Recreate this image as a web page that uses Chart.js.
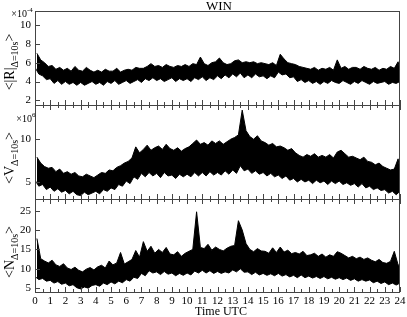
<!DOCTYPE html>
<html>
<head>
<meta charset="utf-8">
<script src="https://cdn.jsdelivr.net/npm/chart.js@4.4.1/dist/chart.umd.min.js"></script>
<style>
  html, body { margin: 0; padding: 0; background: #fff; }
  #wrap { position: relative; width: 407px; height: 317px; }
  canvas { position: absolute; left: 0; top: 0; }
</style>
</head>
<body>
<div id="wrap">
  <canvas id="c1" width="407" height="317"></canvas>
  <canvas id="c2" width="407" height="317"></canvas>
  <canvas id="c3" width="407" height="317"></canvas>
</div>
<script>
// samples every quarter hour, 0..24 UTC; each sample has the low and high edge of the noisy trace
const step = 0.25;

// <|R|> in units of 1e-4
const rLow = [
  5.5, 4.8, 4.6, 4.2,  4.3, 3.8, 4.1, 3.7,  4.0, 3.7, 3.9, 3.6,  3.9, 3.6, 3.8, 4.0,
  3.7, 3.9, 3.6, 4.0,  3.8, 4.1, 3.7, 3.9,  4.1, 3.8, 4.0, 4.2,  3.9, 4.3, 4.1, 4.4,
  4.1, 4.3, 4.0, 4.2,  4.4, 4.0, 4.3, 4.1,  4.3, 4.0, 4.4, 4.2,  4.5, 4.1, 4.4, 4.2,
  4.6, 4.3, 4.7, 4.4,  4.8, 4.5, 4.9, 4.4,  4.7, 4.4, 4.8, 4.5,  4.6, 4.3, 4.6, 4.4,
  5.0, 4.7, 4.8, 4.4,  4.5, 4.0, 4.2, 3.9,  4.1, 3.8, 4.0, 3.7,  4.0, 3.8, 4.1, 3.9,
  3.8, 4.1, 3.9, 3.7,  4.0, 3.8, 4.1, 3.9,  3.7, 4.0, 3.8, 3.9,  4.0, 3.7, 3.9, 3.8,
  4.0
];
const rHigh = [
  7.0, 6.3, 6.0, 5.6,  5.7, 5.3, 5.5, 5.2,  5.4, 5.1, 5.6, 5.2,  5.1, 5.5, 5.2, 5.0,
  5.2, 5.0, 5.3, 5.1,  5.1, 5.4, 5.0, 5.2,  5.3, 5.2, 5.5, 5.4,  5.4, 5.6, 5.9, 5.6,
  5.7, 5.5, 5.8, 5.6,  5.5, 5.7, 5.6, 5.8,  5.6, 5.9, 5.8, 6.6,  5.9, 5.7, 6.0, 6.1,
  6.5, 6.0, 5.8, 5.9,  6.2, 6.3, 6.0, 6.1,  6.0, 6.1, 5.9, 6.0,  5.9, 5.8, 6.0, 5.7,
  6.9, 6.4, 6.0, 5.9,  5.8, 5.6, 5.5, 5.4,  5.3, 5.5, 5.2, 5.4,  5.3, 5.5, 5.2, 6.3,
  5.4, 5.6, 5.3, 5.5,  5.5, 5.3, 5.6, 5.4,  5.3, 5.5, 5.2, 5.4,  5.3, 5.6, 5.4, 6.1,
  5.2
];

// <V> in units of 1e6
const vLow = [
  5.2, 4.5, 4.7, 4.1,  4.4, 3.9, 4.2, 3.8,  4.0, 3.6, 3.9, 3.5,  3.4, 3.8, 3.5, 3.7,
  3.9, 3.6, 4.1, 3.9,  4.3, 4.1, 4.7, 4.5,  5.1, 4.8, 5.6, 5.3,  6.0, 5.6, 6.1, 5.7,
  6.0, 5.5, 6.1, 5.7,  5.8, 5.4, 5.9, 5.6,  5.9, 5.6, 6.1, 5.7,  6.1, 5.7, 6.2, 5.8,
  6.1, 5.8, 6.3, 5.9,  6.4, 6.0, 6.9, 6.3,  6.5, 6.0, 6.3, 5.9,  6.1, 5.7, 6.0, 5.6,
  5.8, 5.4, 5.7, 5.2,  5.4, 5.0, 5.3, 5.0,  5.2, 4.8, 5.2, 4.9,  5.1, 4.7, 5.1, 4.8,
  5.1, 4.7, 4.9, 4.6,  4.8, 4.4, 4.8, 4.3,  4.5, 4.1, 4.3, 4.0,  4.1, 3.7, 3.9, 3.5,
  3.9
];
const vHigh = [
  7.9, 7.2, 6.8, 6.6,  6.7, 6.2, 6.5, 6.0,  6.2, 5.9, 6.1, 5.7,  5.6, 5.9, 5.7, 5.5,
  5.8, 6.1, 6.0, 6.4,  6.3, 6.7, 6.9, 7.2,  7.4, 7.8, 9.1, 8.4,  8.8, 9.3, 8.7, 9.0,
  9.2, 8.8, 9.4, 8.9,  8.7, 9.0, 8.6, 8.9,  9.1, 9.5, 9.9, 9.4,  9.6, 9.3, 9.8, 9.5,
  9.8, 9.4, 9.7, 10.0, 10.2, 10.5, 13.4, 11.0, 10.3, 10.0, 10.4, 9.8, 9.6, 9.3, 9.5, 9.1,
  9.2, 9.0, 8.7, 8.9,  8.4, 8.1, 7.9, 8.2,  8.0, 8.3, 7.9, 8.1,  7.9, 8.2, 7.8, 8.5,
  8.7, 8.3, 7.9, 8.0,  7.8, 7.6, 7.9, 7.4,  7.3, 7.0, 7.2, 6.8,  6.6, 6.4, 6.5, 7.7,
  6.3
];

// <N>
const nLow = [
  8.0, 7.2, 7.5, 6.8,  7.0, 6.3, 6.7, 6.0,  6.3, 5.6, 5.9, 5.1,  4.8, 5.3, 5.0, 5.7,
  5.9, 5.5, 6.3, 5.9,  6.6, 6.1, 6.8, 6.4,  7.2, 6.8, 7.8, 7.5,  8.8, 8.2, 9.5, 8.9,
  9.2, 8.5, 9.3, 8.6,  8.9, 8.2, 8.8, 8.3,  8.9, 8.4, 9.4, 8.9,  9.6, 8.9, 9.5, 8.8,
  9.3, 8.8, 9.2, 8.9,  9.7, 9.2, 10.0, 9.1, 9.2, 8.5, 9.1, 8.4,  8.8, 8.3, 8.7, 8.2,
  8.8, 8.1, 8.5, 7.9,  8.3, 7.7, 8.4, 7.7,  8.1, 7.6, 8.0, 7.5,  8.0, 7.4, 7.8, 7.3,
  7.7, 7.2, 7.6, 7.0,  7.4, 6.8, 7.2, 6.8,  7.1, 6.4, 6.8, 6.2,  6.6, 5.9, 6.3, 5.8,
  6.3
];
const nHigh = [
  17.8, 12.6, 12.0, 11.5,  12.2, 11.0, 10.6, 11.3,  10.2, 9.8, 10.4, 9.6,  9.2, 9.9, 10.3, 9.7,
  10.5, 10.9, 10.2, 12.0,  11.0, 11.5, 14.2, 11.2,  11.8, 12.4, 14.7, 13.0,  17.0, 14.5, 15.8, 14.0,
  15.0, 14.2, 15.5, 13.8,  13.6, 14.4, 13.2, 14.0,  14.5, 15.0, 24.7, 15.5,  15.2, 16.3, 14.8, 15.6,
  15.0, 14.6, 15.3, 15.8,  16.0, 22.4, 20.0, 16.5,  15.0, 14.4, 15.2, 14.6,  14.5, 14.0, 15.4, 14.2,
  15.6, 14.3, 14.8, 13.9,  14.2, 13.8, 14.5, 13.4,  13.6, 14.0, 13.2, 13.8,  13.0, 13.6, 13.2, 14.4,
  14.0, 13.4, 12.8, 13.2,  12.6, 13.0, 12.4, 12.8,  12.2, 11.8, 12.4, 11.6,  11.4, 11.9, 14.5, 11.0,
  10.8
];

// tick labels
const timeTicks = [];
for (let h = 0; h <= 24; h += 0.5) timeTicks.push(h);
const rTicks = [2, 4, 6, 8, 10];
const vTicks = [5, 10];
const nTicks = [5, 10, 15, 20, 25];

const serif = '"Liberation Serif", "DejaVu Serif", serif';

function edge(vals, shift) {
  return vals.map((v, i) => ({ x: Math.min(i * step + shift, 24), y: v }));
}

// frame + inward ticks like the original plot
const framePlugin = {
  id: 'frame',
  afterDraw(chart, args, opts) {
    const ctx = chart.ctx;
    const a = chart.chartArea;
    const x = chart.scales.x, y = chart.scales.y;
    ctx.save();
    ctx.strokeStyle = '#444';
    ctx.lineWidth = 1;
    ctx.beginPath();
    x.ticks.forEach(t => {
      const px = Math.round(x.getPixelForValue(t.value)) + 0.5;
      const len = Number.isInteger(t.value) ? 5 : 3;
      ctx.moveTo(px, a.bottom);
      ctx.lineTo(px, a.bottom - len);
      if (opts.topTicks) {
        ctx.moveTo(px, a.top);
        ctx.lineTo(px, a.top + len);
      }
    });
    y.ticks.forEach(t => {
      const py = Math.round(y.getPixelForValue(t.value)) + 0.5;
      ctx.moveTo(a.left, py);
      ctx.lineTo(a.left + 5, py);
    });
    ctx.stroke();
    ctx.strokeRect(a.left + 0.5, a.top + 0.5, a.right - a.left - 1, a.bottom - a.top);
    ctx.restore();
  }
};

// rotated y-axis title with subscript, the x10^n factor and the other free texts
const labelPlugin = {
  id: 'labels',
  afterDraw(chart, args, opts) {
    const ctx = chart.ctx;
    ctx.save();
    ctx.fillStyle = '#000';
    ctx.translate(opts.cx, opts.cy);
    ctx.rotate(-Math.PI / 2);
    const fMain = '14px ' + serif, fSub = '10px ' + serif;
    ctx.font = fMain;
    const w1 = ctx.measureText(opts.main).width;
    const w3 = ctx.measureText('>').width;
    ctx.font = fSub;
    const w2 = ctx.measureText(opts.sub).width;
    let x = -(w1 + w2 + w3) / 2;
    ctx.font = fMain; ctx.fillText(opts.main, x, 0); x += w1;
    ctx.font = fSub; ctx.fillText(opts.sub, x, 4); x += w2;
    ctx.font = fMain; ctx.fillText('>', x, 0);
    ctx.restore();

    ctx.save();
    ctx.fillStyle = '#000';
    if (opts.exp) {
      ctx.font = '10px ' + serif;
      ctx.textAlign = 'right';
      ctx.fillText('\u00d710', opts.ex, opts.ey);
      ctx.font = '7px ' + serif;
      ctx.textAlign = 'left';
      ctx.fillText(opts.exp, opts.ex, opts.ey - 5);
    }
    if (opts.title) {
      ctx.font = '13px ' + serif;
      ctx.textAlign = 'center';
      ctx.fillText(opts.title, 219, 10);
    }
    if (opts.xTitle) {
      ctx.font = '12px ' + serif;
      ctx.textAlign = 'center';
      ctx.fillText(opts.xTitle, 221, 315);
    }
    ctx.restore();
  }
};

function makeChart(id, low, high, yMin, yMax, yTicks, top, bottom, showX, labels) {
  return new Chart(document.getElementById(id), {
    type: 'line',
    data: {
      datasets: [
        { data: edge(high, step / 2), borderColor: '#000', borderWidth: 1, pointRadius: 0, tension: 0,
          fill: '+1', backgroundColor: '#000' },
        { data: edge(low, 0), borderColor: '#000', borderWidth: 1, pointRadius: 0, tension: 0, fill: false }
      ]
    },
    options: {
      responsive: false,
      animation: false,
      events: [],
      layout: { padding: { left: 0, right: 7, top: top, bottom: bottom } },
      plugins: {
        legend: { display: false },
        tooltip: { enabled: false },
        filler: { propagate: false },
        frame: { topTicks: !labels.title },
        labels: labels
      },
      scales: {
        x: {
          type: 'linear',
          min: 0,
          max: 24,
          grid: { display: false, drawTicks: false },
          border: { display: false },
          afterBuildTicks: s => { s.ticks = timeTicks.map(v => ({ value: v })); },
          afterFit: s => { s.height = showX ? 25 : 0; s.paddingLeft = 0; s.paddingRight = 0; },
          ticks: {
            display: showX,
            autoSkip: false,
            maxRotation: 0,
            padding: 3,
            color: '#000',
            font: { family: serif, size: 11 },
            callback: v => Number.isInteger(v) ? String(v) : ''
          }
        },
        y: {
          min: yMin,
          max: yMax,
          grid: { display: false, drawTicks: false },
          border: { display: false },
          afterBuildTicks: s => { s.ticks = yTicks.map(v => ({ value: v })); },
          afterFit: s => { s.width = 35; s.paddingTop = 0; s.paddingBottom = 0; },
          ticks: {
            padding: 4,
            color: '#000',
            font: { family: serif, size: 11 }
          }
        }
      }
    },
    plugins: [framePlugin, labelPlugin]
  });
}

makeChart('c1', rLow, rHigh, 1.5, 11.5, rTicks, 11, 212, false,
  { main: '<|R|', sub: '\u0394=10s', cx: 14, cy: 62, exp: '-4', ex: 27, ey: 17, title: 'WIN' });
makeChart('c2', vLow, vHigh, 3, 14, vTicks, 105, 118, false,
  { main: '<V', sub: '\u0394=10s', cx: 14, cy: 158, exp: '6', ex: 32, ey: 122 });
makeChart('c3', nLow, nHigh, 4, 28, nTicks, 199, 0, true,
  { main: '<N', sub: '\u0394=10s', cx: 14, cy: 252, xTitle: 'Time UTC' });
</script>
</body>
</html>
